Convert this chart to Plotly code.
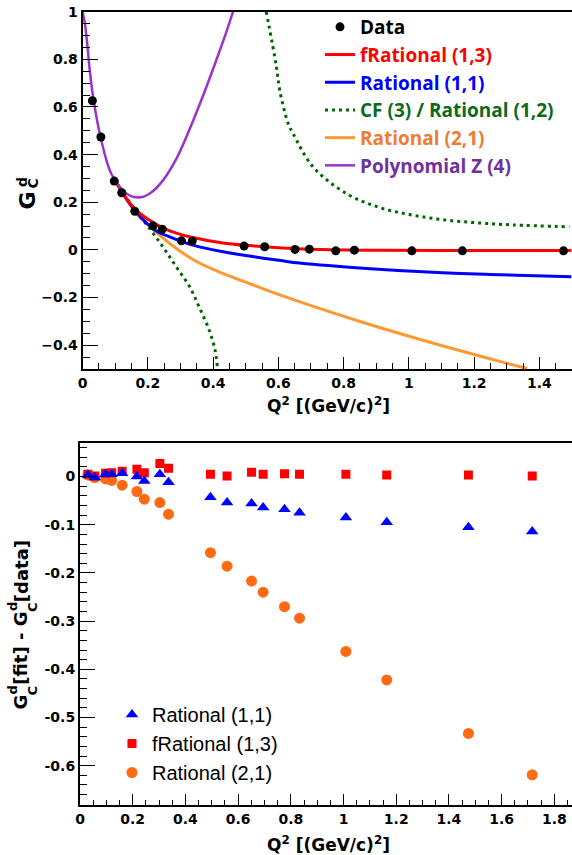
import plotly.graph_objects as go

W, H = 572, 855

# ---------------- data ----------------
# Q^2 of the measurements [(GeV/c)^2]
q2 = [0.030, 0.056, 0.097, 0.120, 0.160, 0.216, 0.244, 0.303, 0.336, 0.495,
      0.558, 0.651, 0.695, 0.776, 0.833, 1.009, 1.164, 1.474, 1.716]

# measured G_C^d (the point at 1.716 lies outside the upper panel)
gc_data = [0.626, 0.474, 0.289, 0.240, 0.162, 0.101, 0.087, 0.038, 0.037, 0.016,
           0.013, 0.002, 0.003, -0.004, -0.001, -0.004, -0.004, -0.004]

# fit curves, sampled along Q^2
frat13_x = [0.101, 0.122, 0.164, 0.221, 0.267, 0.338, 0.430, 0.511, 0.613, 0.675, 0.870, 1.100, 1.498]
frat13_y = [0.289, 0.240, 0.167, 0.111, 0.080, 0.052, 0.029, 0.018, 0.008, 0.004, -0.001, -0.002, -0.002]

rat11_x = [0.101, 0.122, 0.164, 0.221, 0.267, 0.338, 0.430, 0.511, 0.613, 0.665, 0.870, 1.073, 1.278, 1.498]
rat11_y = [0.289, 0.240, 0.160, 0.084, 0.055, 0.020, -0.008, -0.026, -0.046, -0.055, -0.078, -0.094, -0.104, -0.113]

cf3_x_low = [0.101, 0.154, 0.205, 0.246, 0.287, 0.328, 0.357, 0.388, 0.406, 0.413]
cf3_y_low = [0.285, 0.181, 0.090, 0.013, -0.071, -0.155, -0.239, -0.337, -0.421, -0.492]
cf3_x_high = [0.563, 0.594, 0.604, 0.630, 0.645, 0.706, 0.808, 0.910, 1.012, 1.114, 1.216, 1.318, 1.492]
cf3_y_high = [1.000, 0.769, 0.671, 0.531, 0.489, 0.349, 0.237, 0.178, 0.146, 0.125, 0.113, 0.105, 0.097]

rat21_x = [0.101, 0.164, 0.205, 0.267, 0.338, 0.430, 0.511, 0.613, 0.870, 1.073, 1.278, 1.362]
rat21_y = [0.289, 0.153, 0.100, 0.027, -0.040, -0.099, -0.141, -0.193, -0.309, -0.391, -0.468, -0.498]

polyz_x = [0.000, 0.007, 0.014, 0.023, 0.034, 0.055, 0.083, 0.101, 0.134, 0.171,
           0.206, 0.247, 0.288, 0.329, 0.370, 0.410, 0.441, 0.461]
polyz_y = [1.000, 0.951, 0.867, 0.741, 0.626, 0.474, 0.335, 0.289, 0.237, 0.220,
           0.237, 0.293, 0.384, 0.510, 0.650, 0.797, 0.916, 1.000]

# residuals G_C^d[fit] - G_C^d[data]
res_rat11 = [0.003, -0.002, 0.005, 0.005, 0.007, 0.000, -0.009, 0.005, -0.012, -0.043,
             -0.054, -0.056, -0.064, -0.068, -0.075, -0.085, -0.095, -0.105, -0.114]
res_frat13 = [0.005, 0.001, 0.007, 0.008, 0.011, 0.015, 0.008, 0.027, 0.017, 0.005,
              0.001, 0.009, 0.005, 0.006, 0.005, 0.005, 0.003, 0.003, 0.001]
res_rat21 = [0.003, -0.002, -0.005, -0.008, -0.018, -0.031, -0.047, -0.054, -0.078, -0.158,
             -0.186, -0.217, -0.240, -0.270, -0.294, -0.363, -0.422, -0.533, -0.619]

top_yticks = [-0.4, -0.2, 0, 0.2, 0.4, 0.6, 0.8, 1]
bot_yticks = [0, -0.1, -0.2, -0.3, -0.4, -0.5, -0.6]
bot_yticktext = ["0", "-0.1", "-0.2", "-0.3", "-0.4", "-0.5", "-0.6"]

# ---------------- styling ----------------
RED, BLUE, GREEN = "#ff0000", "#0000ff", "#006600"
ORANGE, PURPLE = "#ff9933", "#9933cc"
ORANGE_TXT, PURPLE_TXT, GREEN_TXT = "#ed7d31", "#7030a0", "#0b6b1b"
ORANGE_MK = "#ff6a13"
TICKFONT = dict(family="DejaVu Sans", size=14, color="black", weight="bold")
TITLEFONT = "DejaVu Sans"


def colored(text, color):
    return f"<span style='color:{color}'>{text}</span>"


fig = go.Figure()

# ---- upper panel: fits and data ----
fig.add_trace(go.Scatter(x=rat21_x, y=rat21_y, mode="lines", line=dict(color=ORANGE, width=3, shape="spline"),
                         name=colored("Rational (2,1)", ORANGE_TXT), legendrank=5, xaxis="x", yaxis="y"))
fig.add_trace(go.Scatter(x=cf3_x_low, y=cf3_y_low, mode="lines",
                         line=dict(color=GREEN, width=3, dash="3px,4px", shape="spline"),
                         name=colored("CF (3) / Rational (1,2)", GREEN_TXT), legendgroup="cf3", legendrank=4,
                         xaxis="x", yaxis="y"))
fig.add_trace(go.Scatter(x=cf3_x_high, y=cf3_y_high, mode="lines",
                         line=dict(color=GREEN, width=3, dash="3px,4px", shape="spline"),
                         name="CF (3) / Rational (1,2)", legendgroup="cf3", showlegend=False,
                         xaxis="x", yaxis="y"))
fig.add_trace(go.Scatter(x=rat11_x, y=rat11_y, mode="lines", line=dict(color=BLUE, width=3, shape="spline"),
                         name=colored("Rational (1,1)", BLUE), legendrank=3, xaxis="x", yaxis="y"))
fig.add_trace(go.Scatter(x=frat13_x, y=frat13_y, mode="lines", line=dict(color=RED, width=3, shape="spline"),
                         name=colored("fRational (1,3)", RED), legendrank=2, xaxis="x", yaxis="y"))
fig.add_trace(go.Scatter(x=polyz_x, y=polyz_y, mode="lines", line=dict(color=PURPLE, width=2.5, shape="spline"),
                         name=colored("Polynomial Z (4)", PURPLE_TXT), legendrank=6, xaxis="x", yaxis="y"))
fig.add_trace(go.Scatter(x=q2[:len(gc_data)], y=gc_data, mode="markers",
                         marker=dict(color="black", size=9, symbol="circle"),
                         name="Data", legendrank=1, xaxis="x", yaxis="y"))

# ---- lower panel: residuals ----
fig.add_trace(go.Scatter(x=q2, y=res_rat21, mode="markers",
                         marker=dict(color=ORANGE_MK, size=11, symbol="circle"),
                         name="Rational (2,1)", legend="legend2", legendrank=3, xaxis="x2", yaxis="y2"))
fig.add_trace(go.Scatter(x=q2, y=res_frat13, mode="markers",
                         marker=dict(color=RED, size=9, symbol="square"),
                         name="fRational (1,3)", legend="legend2", legendrank=2, xaxis="x2", yaxis="y2"))
fig.add_trace(go.Scatter(x=q2, y=res_rat11, mode="markers",
                         marker=dict(color=BLUE, size=11, symbol="triangle-up"),
                         name="Rational (1,1)", legend="legend2", legendrank=1, xaxis="x2", yaxis="y2"))


def px_x(p):
    return p / W


def px_y(p):
    return 1 - p / H


axis_common = dict(showline=True, linewidth=2, linecolor="black", showgrid=False, zeroline=False,
                   ticks="inside", tickcolor="black", tickwidth=1, tickfont=TICKFONT,
                   automargin=False)

fig.update_layout(
    width=W, height=H,
    margin=dict(l=0, r=0, t=0, b=0),
    paper_bgcolor="white", plot_bgcolor="white",
    xaxis=dict(domain=[px_x(82.6), 1], range=[0, 1.5], anchor="y", mirror=True,
               tick0=0, dtick=0.2, ticklen=12,
               minor=dict(ticks="inside", ticklen=6, dtick=0.05, tick0=0, tickcolor="black", tickwidth=1),
               **axis_common),
    yaxis=dict(domain=[px_y(369), px_y(11.7)], range=[-0.5, 1.0], anchor="x",
               tickvals=top_yticks, ticklen=15,
               minor=dict(ticks="inside", ticklen=7, dtick=0.05, tick0=0, tickcolor="black", tickwidth=1),
               **axis_common),
    xaxis2=dict(domain=[px_x(80), 1], range=[0, 1.867], anchor="y2", mirror=True,
                tick0=0, dtick=0.2, ticklen=11,
                minor=dict(ticks="inside", ticklen=5, dtick=0.05, tick0=0, tickcolor="black", tickwidth=1),
                **axis_common),
    yaxis2=dict(domain=[px_y(804.7), px_y(443.3)], range=[-0.681, 0.069], anchor="x2",
                tickmode="array", tickvals=bot_yticks, ticktext=bot_yticktext, ticklen=15,
                minor=dict(ticks="inside", ticklen=7, dtick=0.02, tick0=0, tickcolor="black", tickwidth=1),
                **axis_common),
    legend=dict(x=px_x(320), y=px_y(8), xanchor="left", yanchor="top",
                bgcolor="rgba(0,0,0,0)", borderwidth=0,
                font=dict(family="Open Sans", size=19, color="black", weight="bold"),
                traceorder="normal"),
    legend2=dict(x=px_x(112), y=px_y(695), xanchor="left", yanchor="top",
                 bgcolor="rgba(0,0,0,0)", borderwidth=0,
                 font=dict(family="Liberation Sans", size=20, color="black"),
                 traceorder="normal"),
)

# ---- axis titles ----
ann = []
xtitle = "Q<sup>2</sup> [(GeV/c)<sup>2</sup>]"
for yc in (405, 844):
    ann.append(dict(text=xtitle, x=px_x(328), y=px_y(yc), xref="paper", yref="paper",
                    xanchor="center", yanchor="middle", showarrow=False,
                    font=dict(family=TITLEFONT, size=17, color="black", weight="bold")))


def rot(text, xc, yc, size):
    # vertical (rotated) title piece centred at pixel position (xc, yc)
    return dict(text=text, x=px_x(xc), y=px_y(yc), xref="paper", yref="paper",
                xanchor="center", yanchor="middle", showarrow=False, textangle=-90,
                font=dict(family=TITLEFONT, size=size, color="black", weight="bold"))


# upper y title: G with stacked super/subscript
ann.append(rot("G", 26.5, 201, 22))
ann.append(rot("d", 22.5, 182.5, 14))
ann.append(rot("C", 32, 183.5, 14))

# lower y title: G_C^d[fit] - G_C^d[data]
ann.append(rot("G", 21, 702.6, 18))
ann.append(rot("d", 12, 690.4, 13))
ann.append(rot("C", 32, 690.4, 13))
ann.append(rot("[fit] - G", 21, 648.7, 18))
ann.append(rot("d", 12, 607, 13))
ann.append(rot("C", 32, 607, 13))
ann.append(rot("[data]", 21, 571.2, 18))

fig.update_layout(annotations=ann)

fig.write_html("out.html")
